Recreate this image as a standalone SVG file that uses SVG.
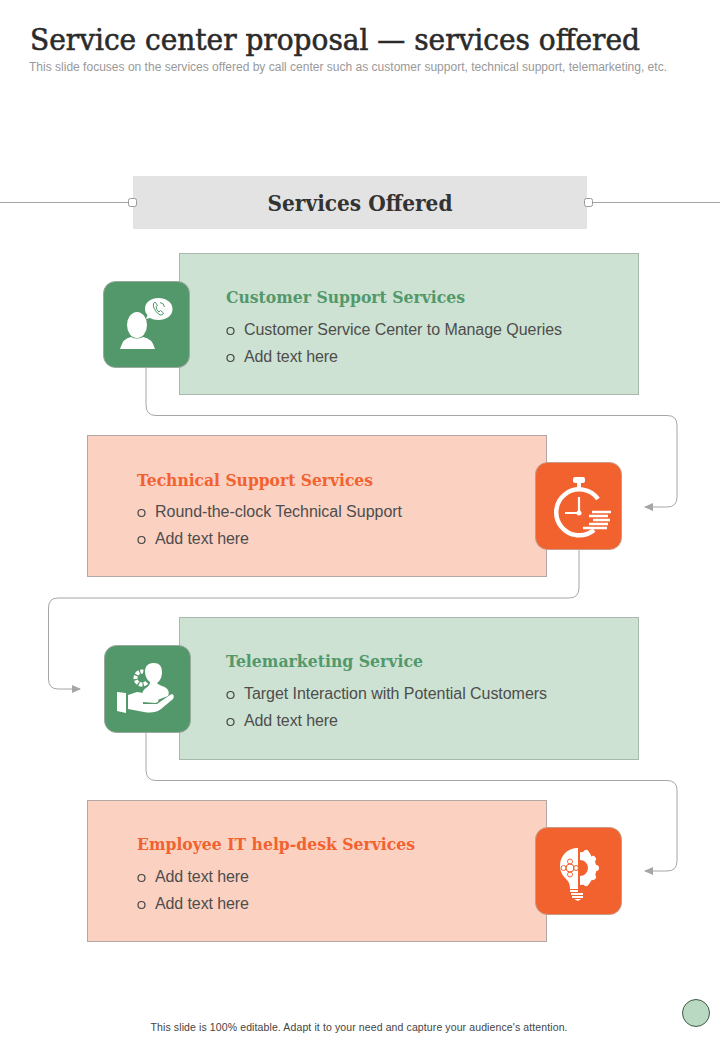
<svg xmlns="http://www.w3.org/2000/svg" width="720" height="1040" viewBox="0 0 720 1040">
<style>
.serif{font-family:"DejaVu Serif","Liberation Serif",serif;font-weight:700}
.sans{font-family:"Liberation Sans",Arial,sans-serif}
.title{font-size:30px;fill:#2b2b2b;font-weight:400;stroke:#2b2b2b;stroke-width:.6}
.sub{font-size:12px;fill:#999}
.head{font-size:22px;fill:#333}
.ct{font-size:17.500px}
.g{fill:#52986a}.o{fill:#f2622e}
.body{font-size:16px;fill:#4d4d4d}
.bul{fill:none;stroke:#444;stroke-width:1.200}
.cg{fill:#cde2d2;stroke:#a9b9ad}
.co{fill:#fbd1c2;stroke:#b3a8a3}
.ig{fill:#52986a;stroke:#9aa89e}
.io{fill:#f2622e;stroke:#c79a86}
.w{fill:#fff}
.ws{fill:none;stroke:#fff}
.conn{fill:none;stroke:#a6a6a6;stroke-width:1}
.tick{fill:#fff;stroke:#999;stroke-width:1}
</style>
<defs>
<marker id="arr" markerUnits="userSpaceOnUse" markerWidth="9" markerHeight="8" refX="8" refY="4" orient="auto"><path d="M0 0L9 4L0 8Z" fill="#a6a6a6"/></marker>
</defs>
<rect width="720" height="1040" fill="#fff"/>
<g id="title">
<text class="serif title" x="30" y="50" textLength="610" lengthAdjust="spacingAndGlyphs">Service center proposal — services offered</text>
<text class="sans sub" x="29" y="71" textLength="638" lengthAdjust="spacingAndGlyphs">This slide focuses on the services offered by call center such as customer support, technical support, telemarketing, etc.</text>
</g>
<g id="connectors">
<path class="conn" d="M0 202.500H128M593 202.500H720"/>
<path class="conn" marker-end="url(#arr)" d="M146 368V405Q146 415.500 156 415.500H667Q677 415.500 677 425V497Q677 507 667 507H645"/>
<path class="conn" marker-end="url(#arr)" d="M579 549V588Q579 598 569 598H58Q48.500 598 48.500 608V679Q48.500 689 58 689H80"/>
<path class="conn" marker-end="url(#arr)" d="M146 732V770Q146 780.500 156 780.500H667Q677 780.500 677 790V861Q677 871 667 871H645"/>
</g>
<g id="header">
<rect x="133" y="176" width="454" height="53" fill="#e3e3e3"/>
<rect class="tick" x="128.500" y="198.500" width="8" height="8" rx="2"/>
<rect class="tick" x="584.500" y="198.500" width="8" height="8" rx="2"/>
<text class="serif head" x="360" y="211" text-anchor="middle" textLength="185" lengthAdjust="spacingAndGlyphs">Services Offered</text>
</g>
<g id="node-customer">
<rect class="cg" x="179.500" y="253.500" width="459" height="141"/>
<text class="serif ct g" x="226" y="303" textLength="239" lengthAdjust="spacingAndGlyphs">Customer Support Services</text>
<circle class="bul" cx="230.500" cy="331" r="3.500"/>
<text class="sans body" x="244" y="335" textLength="318">Customer Service Center to Manage Queries</text>
<circle class="bul" cx="230.500" cy="358" r="3.500"/>
<text class="sans body" x="244" y="362" textLength="94">Add text here</text>
<rect class="ig" x="103.500" y="281.500" width="86" height="86" rx="12"/>
<ellipse class="w" cx="137" cy="325" rx="10" ry="13"/>
<path class="w" d="M120 349Q123 338 131 337Q137 340 143 337Q152 338 155 349Z"/>
<path class="w" d="M145 309C145 302 151 298 158.500 298C166 298 172.500 302 172.500 309C172.500 316 166 320 158.500 320C155 320 152 319 150 318L146 319L147.500 315C146 313.500 145 311.500 145 309Z"/>
<path d="M155 302Q152.500 303 153.500 307Q155 312 160 315Q163 315.500 163.500 313L160.500 310.500L159 312Q156.500 310 156 306.500L157.500 305.500ZM160 302.500Q164 303 164.500 307" fill="none" stroke="#52986a" stroke-width="1"/>
</g>
<g id="node-technical">
<rect class="co" x="87.500" y="435.500" width="459" height="141"/>
<text class="serif ct o" x="137" y="486" textLength="236" lengthAdjust="spacingAndGlyphs">Technical Support Services</text>
<circle class="bul" cx="141.500" cy="513" r="3.500"/>
<text class="sans body" x="155" y="517" textLength="247">Round-the-clock Technical Support</text>
<circle class="bul" cx="141.500" cy="540" r="3.500"/>
<text class="sans body" x="155" y="544" textLength="94">Add text here</text>
<rect class="io" x="535.500" y="462.500" width="86" height="87" rx="12"/>
<path class="ws" stroke-width="4.500" d="M594 530A23 23 0 1 1 598 499"/>
<rect class="w" x="573" y="477" width="12" height="6" rx="2"/>
<rect class="w" x="577" y="482" width="4" height="6"/>
<path class="ws" stroke-width="2.200" d="M579 497V513H565"/>
<circle class="w" cx="579" cy="513" r="2.500"/>
<path class="ws" stroke-width="2.500" d="M592 512H611M589 516H608M593 520H610M589 524H608M583 528H607"/>
</g>
<g id="node-telemarketing">
<rect class="cg" x="179.500" y="617.500" width="459" height="142"/>
<text class="serif ct g" x="226" y="667" textLength="197" lengthAdjust="spacingAndGlyphs">Telemarketing Service</text>
<circle class="bul" cx="230.500" cy="695" r="3.500"/>
<text class="sans body" x="244" y="699" textLength="303">Target Interaction with Potential Customers</text>
<circle class="bul" cx="230.500" cy="722" r="3.500"/>
<text class="sans body" x="244" y="726" textLength="94">Add text here</text>
<rect class="ig" x="104.500" y="645.500" width="86" height="87" rx="12"/>
<circle class="ws" stroke-width="4" stroke-dasharray="3.500 1.200" cx="142" cy="678" r="6.500"/>
<ellipse fill="#52986a" cx="153" cy="673" rx="10" ry="12"/>
<path class="w" d="M145 672C145 665 149 663 154 663C159 663 162 666 162 672C162 677 160 681 157 683C159 686 166 686 168 690C169 692 169 694 168 696L152 702L143 698C141 694 143 690 146 688C149 686 150 684 150 682C147 680 145 676 145 672Z"/>
<path class="w" d="M117 692L126 693L126 713L117 711Z"/>
<path class="w" d="M128 695L137 692C142 692 146 695 149 696L157 698C160 700 158 703 155 703L143 702L143 704L157 704L170 695C173 693 175 696 173 699L161 709C156 713 150 713 144 712L128 709Z"/>
</g>
<g id="node-employee">
<rect class="co" x="87.500" y="800.500" width="459" height="141"/>
<text class="serif ct o" x="137" y="850" textLength="278" lengthAdjust="spacingAndGlyphs">Employee IT help-desk Services</text>
<circle class="bul" cx="141.500" cy="878" r="3.500"/>
<text class="sans body" x="155" y="882" textLength="94">Add text here</text>
<circle class="bul" cx="141.500" cy="905" r="3.500"/>
<text class="sans body" x="155" y="909" textLength="94">Add text here</text>
<rect class="io" x="535.500" y="827.500" width="86" height="87" rx="12"/>
<path class="w" d="M578 848C567 848 560 856 560 866C560 872 563 876 567 880C569 882 570 885 570 889H578Z"/>
<path class="w" d="M570 890H578V892H570ZM571 893H583V895H571ZM572 896H583V898H572ZM574 899H581L578 901Z"/>
<path class="w" d="M580 852A16.500 16.500 0 0 1 580 885ZM580 860V876A8 8 0 0 0 580 860Z" fill-rule="evenodd"/>
<path class="ws" stroke-width="6" stroke-linecap="round" d="M586 853L588 856M596 868H593M586 883L588 880M593 859L591 861M593 877L591 875"/>
<g fill="none" stroke="#f2622e" stroke-width="1"><circle cx="570" cy="868" r="4"/><circle cx="570" cy="861.500" r="2.500"/><circle cx="570" cy="874.500" r="2.500"/><circle cx="563.500" cy="868" r="2.500"/><circle cx="576" cy="868" r="2.500"/></g>
</g>
<g id="footer">
<text class="sans" x="359" y="1031" font-size="10.500" fill="#444" text-anchor="middle" textLength="417">This slide is 100% editable.  Adapt it to your need and capture your audience's attention.</text>
<circle cx="696" cy="1013" r="13.500" fill="#b9d9c2" stroke="#3d5a46" stroke-width="1"/>
</g>
</svg>
